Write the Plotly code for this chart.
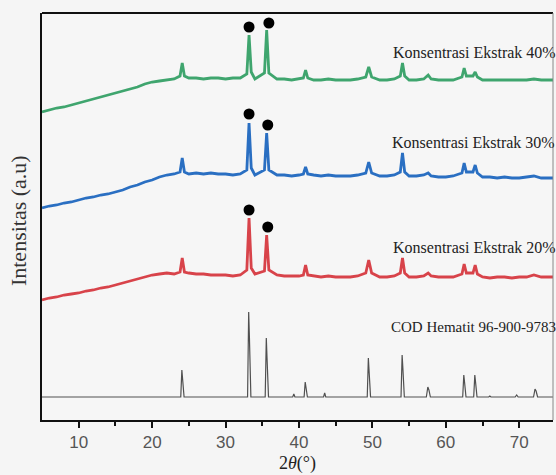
import plotly.graph_objects as go

# ---- data ----
two_theta = [5, 6, 7, 8, 9, 10, 11, 12, 13, 14, 15, 16, 17, 18, 19, 20, 21, 22, 23,
             23.8, 24.1, 24.4, 25, 26, 27, 28, 29, 30, 31, 32,
             32.9, 33.2, 33.5, 34, 35.3, 35.6, 35.9, 37, 38, 39, 40,
             40.6, 40.9, 41.2, 42, 43, 44, 45, 46, 47, 48,
             49.1, 49.5, 49.9, 51, 52, 53, 53.8, 54.1, 54.4, 55, 56, 57,
             57.6, 58, 59, 60, 61, 62.2, 62.5, 62.8, 63.7, 64.0, 64.3,
             65, 66, 67, 68, 69, 70, 71, 72, 73, 74, 75]

int_20 = [120, 122, 123, 125, 126, 127, 129, 130, 132, 133, 135, 137, 139, 141, 143, 145, 146, 147, 146,
          148, 162, 148, 147, 146, 146, 145, 145, 145, 144, 145,
          150, 202, 152, 146, 149, 185, 150, 145, 144, 144, 144,
          145, 155, 145, 144, 143, 144, 143, 143, 143, 144,
          147, 160, 147, 143, 143, 144, 147, 162, 147, 143, 143, 144,
          147, 144, 143, 143, 143, 146, 156, 147, 147, 155, 146,
          143, 142, 143, 143, 142, 143, 143, 145, 143, 143, 143]

int_30 = [212, 214, 215, 217, 218, 220, 222, 223, 225, 226, 228, 230, 233, 235, 238, 240, 243, 245, 246,
          248, 262, 248, 246, 247, 246, 247, 246, 246, 245, 246,
          250, 297, 252, 245, 250, 287, 250, 245, 245, 244, 245,
          246, 253, 246, 245, 244, 245, 244, 244, 244, 245,
          247, 258, 247, 244, 244, 245, 248, 267, 248, 244, 244, 245,
          247, 244, 243, 243, 244, 247, 257, 248, 248, 255, 247,
          243, 243, 242, 243, 242, 242, 243, 244, 242, 242, 242]

int_40 = [308, 310, 312, 313, 315, 317, 319, 321, 323, 325, 327, 329, 331, 333, 336, 338, 339, 340, 341,
          344, 357, 344, 342, 342, 341, 342, 342, 341, 342, 342,
          346, 385, 348, 341, 347, 390, 347, 341, 341, 340, 341,
          342, 350, 342, 340, 340, 341, 340, 340, 340, 341,
          343, 353, 343, 340, 340, 341, 344, 357, 344, 340, 340, 341,
          345, 341, 340, 340, 340, 343, 352, 344, 344, 348, 343,
          340, 340, 340, 340, 340, 340, 340, 341, 340, 340, 340]

cod_2theta = [5,
              23.9, 24.05, 24.15, 24.35,
              33.0, 33.15, 33.25, 33.45,
              35.4, 35.55, 35.65, 35.85,
              39.15, 39.3, 39.45,
              40.7, 40.85, 40.95, 41.15,
              43.35, 43.5, 43.65,
              49.3, 49.45, 49.55, 49.75,
              53.9, 54.05, 54.15, 54.35,
              57.35, 57.55, 57.7, 57.9,
              62.3, 62.45, 62.55, 62.75,
              63.8, 63.95, 64.05, 64.25,
              65.85, 66.0, 66.15,
              69.45, 69.65, 69.85,
              71.95, 72.15, 72.3, 72.5,
              75]
cod_int = [23,
           23, 50, 37, 23,
           23, 108, 83, 23,
           23, 82, 62, 23,
           23, 26, 23,
           23, 38, 32, 23,
           23, 27, 23,
           23, 62, 50, 23,
           23, 65, 52, 23,
           23, 33, 30, 23,
           23, 45, 38, 23,
           23, 45, 38, 23,
           23, 24, 23,
           23, 25, 23,
           23, 31, 29, 23,
           23]

dot_2theta_40 = [33.2, 35.9]
dot_int_40 = [393, 397]
dot_2theta_30 = [33.2, 35.75]
dot_int_30 = [306, 295]
dot_2theta_20 = [33.2, 35.75]
dot_int_20 = [210, 193]

labels = ["Konsentrasi Ekstrak 40%", "Konsentrasi Ekstrak 30%",
          "Konsentrasi Ekstrak 20%", "COD Hematit 96-900-9783"]
label_x = [52.5, 52.4, 52.5, 52.2]
label_y = [368, 278, 173, 93]
label_size = [16, 16, 16, 15]

x_ticks = [10, 20, 30, 40, 50, 60, 70]

# ---- figure ----
fig = go.Figure()
line_w = 2.8
fig.add_trace(go.Scatter(x=cod_2theta, y=cod_int, mode="lines",
                         line=dict(color="#505050", width=1.2), showlegend=False))
fig.add_trace(go.Scatter(x=two_theta, y=int_20, mode="lines",
                         line=dict(color="#d8434a", width=line_w), showlegend=False))
fig.add_trace(go.Scatter(x=two_theta, y=int_30, mode="lines",
                         line=dict(color="#2a6fc2", width=line_w), showlegend=False))
fig.add_trace(go.Scatter(x=two_theta, y=int_40, mode="lines",
                         line=dict(color="#3fa56e", width=line_w), showlegend=False))

for dx, dy in [(dot_2theta_40, dot_int_40), (dot_2theta_30, dot_int_30), (dot_2theta_20, dot_int_20)]:
    fig.add_trace(go.Scatter(x=dx, y=dy, mode="markers",
                             marker=dict(color="black", size=11), showlegend=False))

for t, lx, ly, fs in zip(labels, label_x, label_y, label_size):
    fig.add_annotation(x=lx, y=ly, text=t, showarrow=False, xanchor="left", yanchor="middle",
                       font=dict(family="Liberation Serif", size=fs, color="#222222"))

# axis titles placed as annotations
fig.add_annotation(xref="paper", yref="paper", x=0.5, y=-0.108, text="2<i>θ</i>(°)",
                   showarrow=False, xanchor="center", yanchor="middle",
                   font=dict(family="Liberation Serif", size=18, color="#222222"))
fig.add_annotation(xref="paper", yref="paper", x=-0.046, y=0.49, text="Intensitas (a.u)",
                   showarrow=False, xanchor="center", yanchor="middle", textangle=-90,
                   font=dict(family="Liberation Serif", size=22, color="#333333"))

fig.update_xaxes(range=[5, 74.6], tickvals=x_ticks, ticks="outside", ticklen=6, tickwidth=2,
                 tickcolor="#111111", automargin=False,
                 minor=dict(tickvals=[15, 25, 35, 45, 55, 65], ticks="outside", ticklen=4,
                            tickwidth=1.5, tickcolor="#111111"),
                 showgrid=False, zeroline=False, showline=True, linecolor="#111111", linewidth=2,
                 tickfont=dict(family="Liberation Sans", size=17, color="#555555"))
fig.update_yaxes(range=[0, 407], showticklabels=False, ticks="", showgrid=False, zeroline=False,
                 showline=True, linecolor="#111111", linewidth=2, automargin=False)

# frame: top and right borders
fig.add_shape(type="line", xref="paper", yref="paper", x0=0, x1=1, y0=1, y1=1,
              line=dict(color="#111111", width=2))
fig.add_shape(type="line", xref="paper", yref="paper", x0=1, x1=1, y0=0, y1=1,
              line=dict(color="#888888", width=1))

fig.update_layout(width=556, height=475,
                  margin=dict(l=42, r=3, t=13, b=55),
                  paper_bgcolor="#f5f5f5", plot_bgcolor="#f6f6f6")

fig.write_html("out.html", config={"displayModeBar": False},
               post_script="document.body.style.margin='0';document.body.style.overflow='hidden';"
                           "document.body.style.background='#f5f5f5';")
